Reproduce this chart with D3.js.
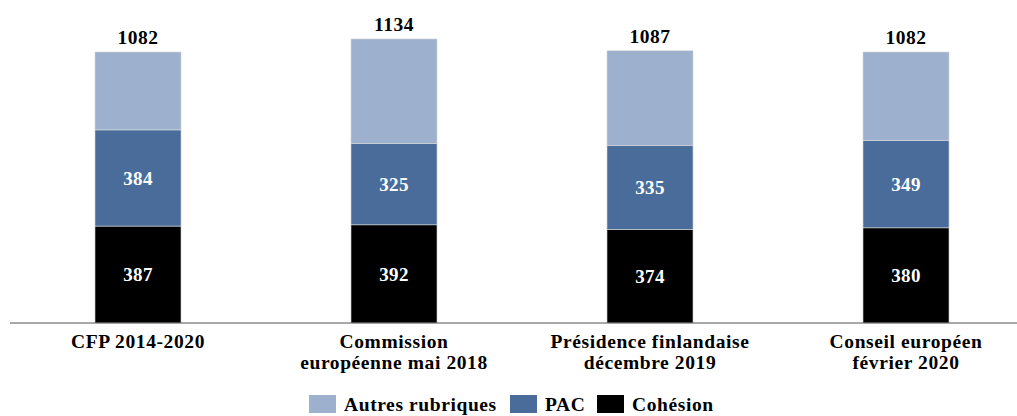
<!DOCTYPE html>
<html>
<head>
<meta charset="utf-8">
<script src="https://cdn.jsdelivr.net/npm/d3@7"></script>
<style>
  body { margin: 0; background: #fff; }
  text { font-family: "Liberation Serif", "Times New Roman", serif; font-weight: bold; }
</style>
</head>
<body>
<div id="chart"></div>
<script>
// data
var categories = [["CFP 2014-2020"], ["Commission", "européenne mai 2018"], ["Présidence finlandaise", "décembre 2019"], ["Conseil européen", "février 2020"]];
var cohesion = [387, 392, 374, 380];
var pac = [384, 325, 335, 349];
var totals = [1082, 1134, 1087, 1082];
var seriesNames = ["Autres rubriques", "PAC", "Cohésion"];
var seriesColors = ["#9db0ce", "#4a6c9b", "#000000"];

var width = 1017, height = 416;
var baseY = 323;

var svg = d3.select("#chart").append("svg")
  .attr("width", width)
  .attr("height", height);

var x = d3.scaleBand().domain(d3.range(categories.length)).range([10, 1034]).paddingInner(0.664).paddingOuter(0.332);
var y = d3.scaleLinear().domain([0, 1082]).range([baseY, 52]);

var rows = categories.map(function (c, i) {
  return { i: i, cohesion: cohesion[i], pac: pac[i], autres: totals[i] - cohesion[i] - pac[i] };
});
var stack = d3.stack().keys(["cohesion", "pac", "autres"])(rows);
var colorOf = { cohesion: "#000000", pac: "#4a6c9b", autres: "#9db0ce" };

svg.selectAll("g.layer")
  .data(stack)
  .enter().append("g")
  .attr("class", "layer")
  .attr("fill", function (d) { return colorOf[d.key]; })
  .selectAll("rect")
  .data(function (d) { return d; })
  .enter().append("rect")
  .attr("x", function (d) { return x(d.data.i); })
  .attr("width", x.bandwidth())
  .attr("y", function (d) { return y(d[1]); })
  .attr("height", function (d) { return y(d[0]) - y(d[1]); })
  .attr("stroke", "#d8d8d8")
  .attr("stroke-width", 0.6);

// inner labels for cohesion and pac
stack.slice(0, 2).forEach(function (layer) {
  svg.selectAll(null)
    .data(layer)
    .enter().append("text")
    .attr("x", function (d) { return x(d.data.i) + x.bandwidth() / 2; })
    .attr("y", function (d) { return (y(d[0]) + y(d[1])) / 2; })
    .attr("dy", "0.35em")
    .attr("text-anchor", "middle")
    .attr("fill", "#fff")
    .style("font-size", "19px")
    .style("letter-spacing", "0.4px")
    .text(function (d) { return d.data[layer.key]; });
});

// totals
svg.selectAll("text.total")
  .data(totals)
  .enter().append("text")
  .attr("class", "total")
  .attr("x", function (d, i) { return x(i) + x.bandwidth() / 2; })
  .attr("y", function (d) { return y(d) - 8; })
  .attr("text-anchor", "middle")
  .attr("fill", "#000")
  .style("font-size", "19.5px")
  .style("letter-spacing", "0.5px")
  .text(function (d) { return d; });

// axis
var xAxis = d3.axisBottom(x).tickSize(0).tickFormat("");
var axisG = svg.append("g")
  .attr("transform", "translate(0," + baseY + ")")
  .call(xAxis);
axisG.select(".domain").attr("stroke", "#555").attr("stroke-width", 1.2).attr("d", "M10,0H1017");

categories.forEach(function (lines, i) {
  var t = svg.append("text")
    .attr("x", x(i) + x.bandwidth() / 2)
    .attr("y", 348)
    .attr("text-anchor", "middle")
    .attr("fill", "#000")
    .style("font-size", "19.5px")
    .style("letter-spacing", "0.6px");
  lines.forEach(function (l, k) {
    t.append("tspan").attr("x", x(i) + x.bandwidth() / 2).attr("dy", k === 0 ? 0 : 21).text(l);
  });
});

// legend
var legendX = [309, 510, 597];
var legend = svg.selectAll("g.legend")
  .data(seriesNames)
  .enter().append("g")
  .attr("class", "legend")
  .attr("transform", function (d, i) { return "translate(" + legendX[i] + ",395)"; });
legend.append("rect")
  .attr("width", 27).attr("height", 18)
  .attr("fill", function (d, i) { return seriesColors[i]; });
legend.append("text")
  .attr("x", 35).attr("y", 16)
  .attr("fill", "#000")
  .style("font-size", "19.5px")
  .style("letter-spacing", "0.6px")
  .text(function (d) { return d; });
</script>
</body>
</html>
